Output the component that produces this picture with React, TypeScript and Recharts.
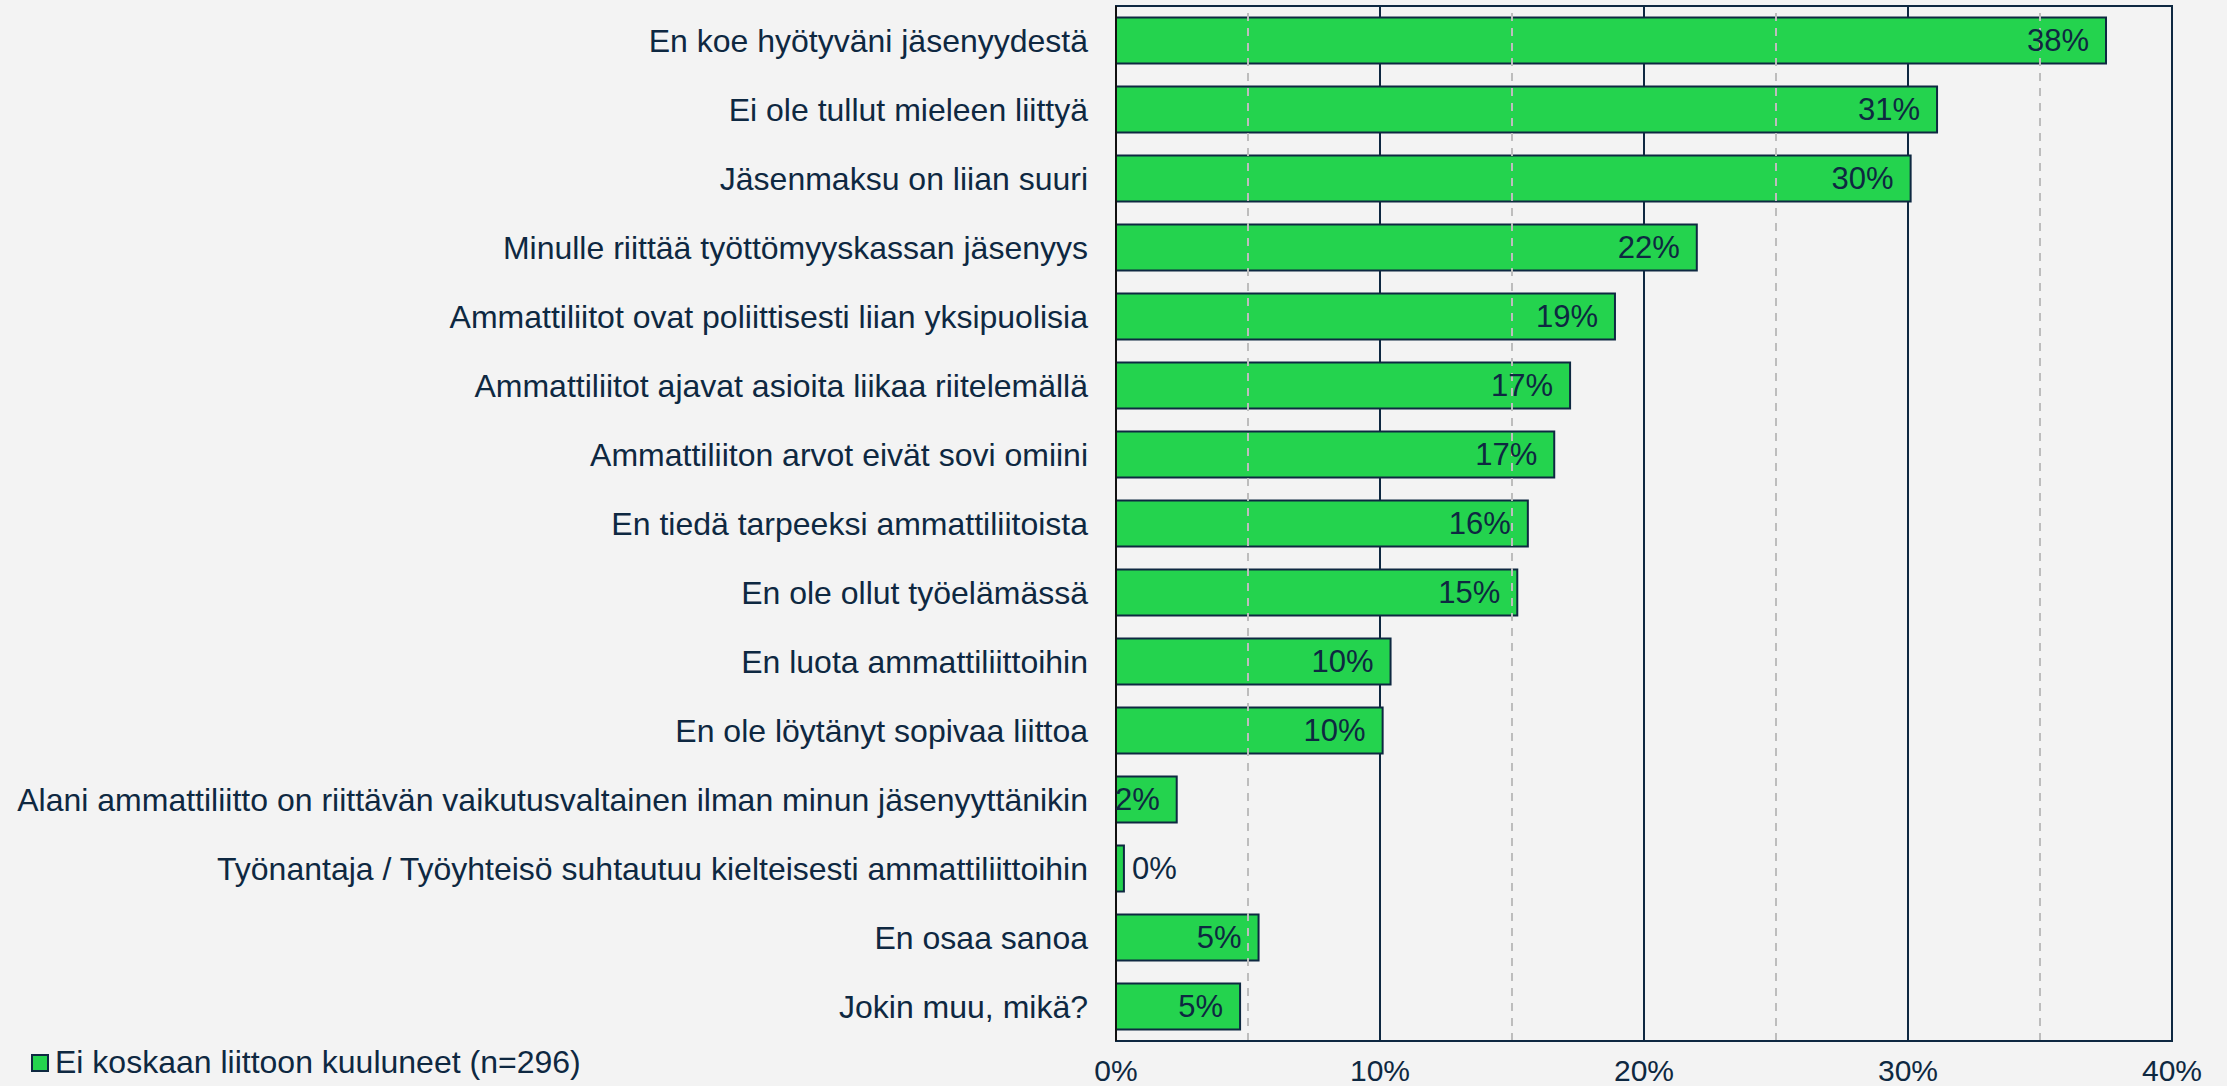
import { Bar, BarChart, CartesianGrid, LabelList, ReferenceArea, ReferenceLine, XAxis, YAxis } from "recharts";

const CATEGORIES = [
  "En koe hyötyväni jäsenyydestä",
  "Ei ole tullut mieleen liittyä",
  "Jäsenmaksu on liian suuri",
  "Minulle riittää työttömyyskassan jäsenyys",
  "Ammattiliitot ovat poliittisesti liian yksipuolisia",
  "Ammattiliitot ajavat asioita liikaa riitelemällä",
  "Ammattiliiton arvot eivät sovi omiini",
  "En tiedä tarpeeksi ammattiliitoista",
  "En ole ollut työelämässä",
  "En luota ammattiliittoihin",
  "En ole löytänyt sopivaa liittoa",
  "Alani ammattiliitto on riittävän vaikutusvaltainen ilman minun jäsenyyttänikin",
  "Työnantaja / Työyhteisö suhtautuu kielteisesti ammattiliittoihin",
  "En osaa sanoa",
  "Jokin muu, mikä?",
];

const VALUES = [37.5, 31.1, 30.1, 22.0, 18.9, 17.2, 16.6, 15.6, 15.2, 10.4, 10.1, 2.3, 0.3, 5.4, 4.7];

const MAJOR_TICKS = [0, 10, 20, 30, 40];
const MINOR_TICKS = [5, 15, 25, 35];

const SERIES_NAME = "Ei koskaan liittoon kuuluneet (n=296)";

const NAVY = "#0E2841";
const GREEN = "#24D34E";
const FONT = "'Liberation Sans', Arial, sans-serif";

const data = CATEGORIES.map((name, i) => ({ name, value: VALUES[i] }));

function ValueLabel(props: any) {
  const { x, y, width, height, value } = props;
  const text = `${Math.round(value)}%`;
  const cy = y + height / 2;
  if (value < 1) {
    return (
      <text x={x + width + 8} y={cy} dy="0.35em" textAnchor="start" fill={NAVY} fontSize={31} fontFamily={FONT}>
        {text}
      </text>
    );
  }
  return (
    <text x={x + width - 17} y={cy} dy="0.35em" textAnchor="end" fill={NAVY} fontSize={31} fontFamily={FONT}>
      {text}
    </text>
  );
}

export default function App() {
  return (
    <div style={{ position: "absolute", left: 0, top: 0, width: 2227, height: 1086, background: "#F3F3F3", fontFamily: FONT }}>
      <BarChart
        width={2227}
        height={1086}
        data={data}
        layout="vertical"
        margin={{ top: 6, right: 55, bottom: 15, left: 0 }}
        barCategoryGap="16.7%"
      >
        <CartesianGrid horizontal={false} stroke={NAVY} strokeWidth={2} />
        {MINOR_TICKS.map((t) => (
          <ReferenceLine key={t} x={t} stroke="#BDBDBD" strokeWidth={2} strokeDasharray="8 7" />
        ))}
        <ReferenceArea x1={0} x2={40} fill="none" stroke={NAVY} strokeWidth={2} />
        <XAxis
          type="number"
          domain={[0, 40]}
          ticks={MAJOR_TICKS}
          tickFormatter={(v) => `${v}%`}
          height={30}
          axisLine={{ stroke: NAVY, strokeWidth: 2 }}
          tickLine={false}
          tickSize={0}
          tickMargin={19}
          tick={{ fill: NAVY, fontSize: 30, fontFamily: FONT }}
        />
        <YAxis
          type="category"
          dataKey="name"
          width={1116}
          interval={0}
          axisLine={{ stroke: "#111", strokeWidth: 2 }}
          tickLine={false}
          tickSize={0}
          tickMargin={28}
          tick={{ fill: NAVY, fontSize: 32, fontFamily: FONT }}
        />
        <Bar dataKey="value" name={SERIES_NAME} fill={GREEN} stroke={NAVY} strokeWidth={2} isAnimationActive={false}>
          <LabelList dataKey="value" content={ValueLabel} />
        </Bar>
      </BarChart>
      <div
        style={{
          position: "absolute",
          left: 31,
          top: 1044,
          display: "flex",
          alignItems: "center",
          gap: 6,
          color: NAVY,
          fontSize: 32,
          whiteSpace: "nowrap",
        }}
      >
        <span style={{ width: 14, height: 14, background: GREEN, border: `2px solid ${NAVY}`, display: "inline-block" }} />
        <span>{SERIES_NAME}</span>
      </div>
    </div>
  );
}
